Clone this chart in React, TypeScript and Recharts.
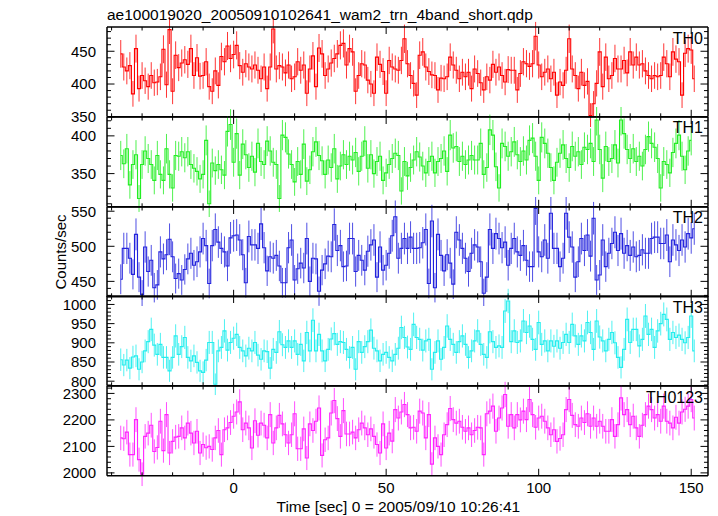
import { ComposedChart, ErrorBar, Line, XAxis, YAxis } from "recharts";

// light curves, 1 s bins, first bin centre at t = -37 s
const T_START = -37;

const th0 = [
  446, 426, 420, 428, 385, 454, 393, 413, 405, 396, 413,
  402, 403, 411, 453, 399, 483, 389, 444, 425, 432, 437,
  430, 454, 413, 440, 412, 413, 434, 396, 389, 420,
  398, 442, 434, 458, 439, 445, 459, 428, 418, 431, 426,
  423, 429, 421, 408, 426, 393, 426, 484, 423, 428,
  426, 417, 429, 408, 411, 434, 421, 429, 386, 423, 443,
  396, 455, 446, 413, 423, 432, 439, 446, 459, 462, 429,
  454, 449, 389, 413, 431, 429, 406, 400, 386, 441,
  430, 419, 386, 436, 426, 423, 421, 436, 469,
  431, 413, 401, 383, 444, 449, 426, 419, 414, 413, 391,
  409, 408, 411, 441, 429, 421, 408, 418, 411, 418,
  393, 423, 416, 402, 391, 411, 406, 430, 418, 426, 413,
  403, 422, 421, 421, 391, 416, 434, 431, 427, 431, 473,
  429, 411, 418, 423, 408, 418, 383, 403, 398, 421,
  469, 423, 413, 393, 418, 398, 404, 352, 370, 401, 449,
  396, 441, 408, 413, 439, 423, 423, 436, 417, 449, 429,
  441, 429, 431, 420, 413, 408, 413, 411, 413, 441, 431,
  411, 449, 438, 434, 383, 447, 454, 452, 408,
];

const th1 = [
  374, 363, 383, 335, 362, 375, 317, 362, 380, 370, 362,
  341, 374, 349, 341, 383, 349, 331, 374, 373, 379,
  371, 379, 362, 357, 353, 343, 349, 394, 310, 364, 354,
  362, 355, 348, 406, 415, 365, 403, 348, 389, 375, 358,
  373, 352, 390, 366, 362, 393, 380, 365, 362, 317, 401,
  398, 376, 362, 339, 366, 349, 389, 340, 355, 379,
  392, 374, 367, 349, 368, 358, 383, 343, 360, 375, 362,
  373, 368, 378, 353, 373, 393, 357, 375, 350, 366,
  373, 341, 351, 362, 370, 377, 374, 327,
  366, 347, 358, 368, 379, 372, 360, 351, 366,
  373, 351, 366, 370, 380, 353, 401, 384, 386, 366, 373,
  362, 368, 374, 368, 368, 390, 349, 358, 408, 401,
  359, 331,
  390, 386, 373, 379, 392, 375, 366, 380, 368, 394, 397,
  373, 341, 398, 390, 377, 358, 341, 365, 377, 388,
  370, 358, 386, 373, 379, 362, 385, 382, 390, 366, 421,
  382, 344, 386, 366, 370, 388, 364, 421, 403, 382,
  370, 383, 366, 373, 360, 382, 399, 390, 385, 370, 331,
  366, 362, 351, 378, 390, 401, 373, 355, 380, 394,
];

const th2 = [
  453, 497, 497, 483, 460, 517, 456, 431, 499, 464,
  480, 441, 445, 492, 482, 488, 510, 485, 454, 461,
  452, 467, 482, 490, 473, 478, 492, 511, 501, 447, 501,
  524, 506, 497, 492, 472, 512, 515, 516, 509, 488, 448,
  514, 502, 502, 497, 532, 498, 465, 485, 483, 487,
  472, 448, 448, 498, 509, 452, 468, 476, 469, 511, 450,
  483, 482, 436, 466, 475, 486, 485, 531, 494, 501, 471,
  472, 511, 511, 464, 487, 480, 466, 493, 502, 509, 456,
  499, 466, 473, 490, 515, 542, 483, 497, 511,
  497, 513, 497, 497, 498, 505, 524, 447, 536, 441, 517,
  487, 465, 488, 476, 446, 520, 509, 497, 483, 464, 490,
  502, 499, 478, 433, 456, 524, 497, 518, 511, 498,
  506, 473, 497, 511, 492, 487, 501, 480, 471, 471, 554,
  492, 485, 509, 483, 547, 497, 497, 471, 483, 547,
  513, 499, 456, 478, 511, 494, 516, 486, 540, 452, 459,
  509, 471, 490, 504, 520, 494, 518, 490, 501, 487,
  499, 485, 487, 495, 490, 490, 511, 513, 513, 504, 504,
  516, 478, 509, 502, 494, 509, 499, 518, 512, 525,
];

const th3 = [
  856, 842, 855, 834, 863, 866, 831, 850, 879, 903, 935,
  894, 870, 896, 862, 862, 827, 862, 918, 870, 890, 914,
  862, 853, 866, 849, 827, 823, 855, 901, 901, 792,
  879, 888, 931, 881, 901, 912, 922, 888, 879, 866, 886,
  879, 901, 868, 857, 879, 877, 834, 883, 875, 929, 895, 888,
  905, 888, 905, 870, 896, 853, 927, 879, 959, 879,
  922, 879, 853, 883, 910, 924, 896, 903, 901, 883, 862,
  888, 831, 903, 875, 890, 903, 933, 886, 879, 853, 870,
  875, 862, 853, 870, 886, 940, 914, 889,
  883, 948, 914, 909, 881, 905, 909, 831, 875, 905,
  857, 888, 944, 909, 896, 875, 903, 918, 896, 862,
  879, 905, 931, 896, 870, 862, 929, 903, 888, 892, 888, 983,
  1009, 903, 931, 901, 905, 957, 927, 944, 909, 883,
  953, 896, 905, 879, 905, 891, 905, 886, 901, 922, 901,
  948, 918, 896, 918, 905, 953, 927, 883, 957, 915, 905,
  879, 909, 927, 900, 862, 836, 883, 961, 901, 935, 935,
  892, 909, 970, 922, 935, 888, 931, 950, 974, 961, 909,
  927, 914, 920, 909, 900, 914, 970, 879,
];

const th0123 = [
  2132, 2129, 2154, 2069, 2069, 2201, 2050, 1995, 2138, 2150,
  2180, 2081, 2096, 2195, 2084, 2220, 2075, 2119, 2135, 2138,
  2170, 2132, 2188, 2150, 2113, 2157, 2075, 2107, 2095, 2100, 2088, 2132,
  2160, 2069, 2163, 2170, 2190, 2214, 2230, 2268, 2163, 2188, 2170,
  2094, 2197, 2142, 2188, 2180, 2132, 2220, 2113, 2170, 2217,
  2185, 2144, 2113, 2144, 2223, 2091, 2091, 2166, 2056, 2185, 2160,
  2195, 2245, 2066, 2125, 2132, 2226, 2273, 2205, 2138, 2235,
  2147, 2147, 2154, 2132, 2163, 2188, 2170, 2144, 2166, 2138, 2107,
  2075, 2185, 2094, 2150, 2120, 2239, 2207, 2230, 2258,
  2220, 2170, 2172, 2157, 2233, 2226, 2132, 2220, 2033, 2132,
  2100, 2069, 2144, 2182, 2243, 2201, 2188, 2195, 2172, 2157,
  2170, 2144, 2160, 2172, 2170, 2069, 2223, 2233, 2252, 2157, 2207,
  2245, 2296, 2176, 2220, 2170, 2220, 2200, 2233, 2201, 2277, 2220,
  2172, 2207, 2214, 2195, 2170, 2144, 2163, 2119, 2130, 2144, 2239,
  2277, 2217, 2182, 2176, 2207, 2190, 2223, 2176, 2207, 2176, 2195,
  2176, 2157, 2157, 2201, 2138, 2182, 2283, 2220, 2239, 2182,
  2214, 2170, 2138, 2180, 2220, 2252, 2239, 2207, 2220, 2195, 2252,
  2195, 2188, 2170, 2210, 2188, 2230, 2240, 2252, 2277, 2207,
];

const series = [th0, th1, th2, th3, th0123];
const panelNames = ["TH0", "TH1", "TH2", "TH3", "TH0123"];
const colors = ["#ff0000", "#22ee22", "#2222dd", "#22eeee", "#ff22ff"];
const yDomains = [[350, 487], [306, 425], [428, 556], [788, 1022], [1989, 2328]];
const yMajor = [[350, 400, 450], [350, 400], [450, 500, 550], [800, 850, 900, 950, 1000], [2000, 2100, 2200, 2300]];
const yMinorStep = [10, 10, 10, 10, 20];
const xMajor = [0, 50, 100, 150];
const X_DOMAIN = [-41.5, 155.5];

const W = 718;
const H = 516;
const PLOT_LEFT = 107;
const PLOT_RIGHT = 708;
const PLOT_TOP = 27;
const PANEL_H = 89.8;
const PAD = 10;
const FONT = '"Liberation Sans", Arial, Helvetica, sans-serif';

const ticksIn = (lo: number, hi: number, step: number) => {
  const out: number[] = [];
  for (let v = Math.ceil(lo / step) * step; v <= hi; v += step) out.push(v);
  return out;
};
const xTicks = ticksIn(X_DOMAIN[0], X_DOMAIN[1], 10);
const frame = { stroke: "#000", strokeWidth: 1.5 };

function Panel({ idx }: { idx: number }) {
  const top = PLOT_TOP + idx * PANEL_H;
  const last = idx === series.length - 1;
  const mb = last ? 40 : PAD;
  const data = series[idx].map((v, i) => ({ t: T_START + i, v, e: Math.sqrt(v) }));
  const dom = yDomains[idx];
  const major = yMajor[idx];
  const yTicks = ticksIn(dom[0], dom[1], yMinorStep[idx]);

  const xTick = (dir: number, label: boolean) => (p: any) => {
    const isMajor = xMajor.includes(p.payload.value);
    return (
      <g>
        <line x1={p.x} x2={p.x} y1={p.y} y2={p.y + dir * (isMajor ? 7 : 3.5)} stroke="#000" strokeWidth={1} />
        {label && isMajor && (
          <text x={p.x} y={p.y + 17.5} textAnchor="middle" fontSize={15} fontFamily={FONT} fill="#000">
            {p.payload.value}
          </text>
        )}
      </g>
    );
  };
  const yTick = (dir: number, label: boolean) => (p: any) => {
    const isMajor = major.includes(p.payload.value);
    return (
      <g>
        <line x1={p.x} x2={p.x + dir * (isMajor ? 7.5 : 4)} y1={p.y} y2={p.y} stroke="#000" strokeWidth={1} />
        {label && isMajor && (
          <text x={p.x - 11} y={p.y} dy="0.36em" textAnchor="end" fontSize={15} fontFamily={FONT} fill="#000">
            {p.payload.value}
          </text>
        )}
      </g>
    );
  };

  // axes are 1px thick so that recharts renders them; margins shrink to keep the plot box fixed
  return (
    <div style={{ position: "absolute", left: 0, top: top - PAD }}>
      <ComposedChart
        width={W}
        height={PANEL_H + PAD + mb}
        data={data}
        margin={{ top: PAD - 1, bottom: mb - 1, left: PLOT_LEFT - 1, right: W - PLOT_RIGHT - 1 }}
      >
        <XAxis xAxisId="b" dataKey="t" type="number" domain={X_DOMAIN} ticks={xTicks} interval={0}
          height={1} tickSize={0} tickMargin={0} axisLine={frame} tickLine={false}
          tick={xTick(-1, last)} allowDataOverflow />
        <XAxis xAxisId="t" orientation="top" dataKey="t" type="number" domain={X_DOMAIN} ticks={xTicks} interval={0}
          height={1} tickSize={0} tickMargin={0} axisLine={frame} tickLine={false}
          tick={xTick(1, false)} allowDataOverflow />
        <YAxis yAxisId="l" type="number" domain={dom} ticks={yTicks} interval={0}
          width={1} tickSize={0} tickMargin={0} axisLine={frame} tickLine={false}
          tick={yTick(1, true)} allowDataOverflow />
        <YAxis yAxisId="r" orientation="right" type="number" domain={dom} ticks={yTicks} interval={0}
          width={1} tickSize={0} tickMargin={0} axisLine={frame} tickLine={false}
          tick={yTick(-1, false)} allowDataOverflow />
        <Line xAxisId="b" yAxisId="l" type="step" dataKey="v" stroke={colors[idx]} strokeWidth={1.1}
          dot={false} activeDot={false} isAnimationActive={false}>
          <ErrorBar dataKey="e" direction="y" width={0} stroke={colors[idx]} strokeWidth={1}
            strokeOpacity={0.8} isAnimationActive={false} />
        </Line>
      </ComposedChart>
    </div>
  );
}

export default function App() {
  return (
    <div style={{ position: "absolute", left: 0, top: 0, width: W, height: H, background: "#fff", fontFamily: FONT }}>
      {series.map((_, i) => (
        <Panel key={panelNames[i]} idx={i} />
      ))}
      <svg width={W} height={H} style={{ position: "absolute", left: 0, top: 0, pointerEvents: "none" }}>
        <text x={PLOT_LEFT} y={19.5} fontSize={15.5} fontFamily={FONT} fill="#000">
          ae100019020_20050910102641_wam2_trn_4band_short.qdp
        </text>
        {panelNames.map((n, i) => (
          <text key={n} x={703} y={PLOT_TOP + i * PANEL_H + 16.5} textAnchor="end" fontSize={16} fontFamily={FONT} fill="#000">
            {n}
          </text>
        ))}
        <text x={0} y={0} transform="translate(66,252) rotate(-90)" textAnchor="middle" fontSize={15} fontFamily={FONT} fill="#000">
          Counts/sec
        </text>
        <text x={276.5} y={511.5} fontSize={15.5} fontFamily={FONT} fill="#000">
          Time [sec] 0 = 2005/09/10 10:26:41
        </text>
      </svg>
    </div>
  );
}
